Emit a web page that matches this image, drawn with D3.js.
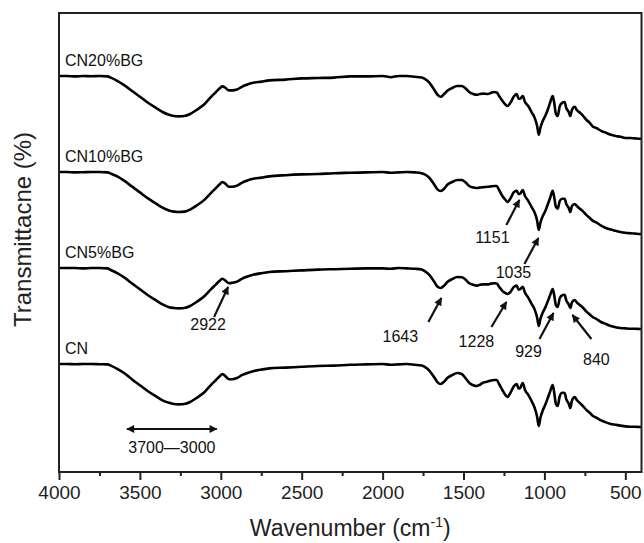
<!DOCTYPE html>
<html><head><meta charset="utf-8">
<script src="https://cdn.jsdelivr.net/npm/d3@7/dist/d3.min.js"></script>
<style>
html,body{margin:0;padding:0;background:#fff;}
svg{display:block;font-family:"Liberation Sans",Arial,Helvetica,sans-serif;}
</style></head>
<body>
<svg id="chart" width="644" height="543"></svg>
<script>
// ---------------- DATA ----------------
const seriesNames = ["CN20%BG", "CN10%BG", "CN5%BG", "CN"];
const seriesOffsets = [72, 48, 24, 0];

const wavenumbers = [4000,3950,3900,3850,3800,3750,3700,3680,3640,3600,
3550,3500,3450,3400,3360,3320,3290,3260,3225,3190,
3150,3100,3060,3030,3005,2990,2970,2950,2930,2900,
2870,2840,2800,2750,2700,2600,2500,2400,2300,2200,
2100,2000,1950,1900,1850,1800,1760,1740,1710,1680,
1660,1641,1620,1600,1570,1540,1511,1490,1465,1440,
1419,1400,1380,1350,1330,1310,1295,1280,1260,1240,
1228,1210,1190,1171,1160,1150,1134,1120,1100,1080,
1060,1045,1035,1025,1010,995,980,965,949,940,
929,918,905,890,875,865,850,840,830,813,
800,780,760,740,720,700,680,650,620,590,
560,530,500,470,440,410,400];

const tCN20 = [95,95,94.9,95,94.95,95,94.9,94.6,93.8,92.8,
91.3,89.8,88.3,87,86,85.3,85,84.9,85,85.5,
86.5,88,89.8,91,92,92.4,92,91.4,91.4,91.6,
92.3,92.8,93.3,93.6,93.9,94.1,94.4,94.5,94.6,94.9,
94.9,95,94.7,95,95,94.8,94.6,94.3,93.3,91.5,
90.3,89.8,90.5,91.3,92,92.5,92.5,92,91,90.5,
90.3,90.5,90.6,90.5,90.8,91,90.9,90,88.8,87.8,
87.5,88.3,89.8,90.5,89.3,89.3,90,88.5,87.5,86,
84.5,82.5,80.3,82,83.8,85,86.5,88.3,90,88.5,
85.5,85,87.5,88.3,88.5,87,86,85,86.5,87.3,
86.5,85.8,85,84,83.3,82.3,82,81.3,80.8,80.3,
80,79.8,79.5,79.5,79.4,79.3,79.3];

const tCN10 = [95,95,94.9,94.95,95,95,94.9,94.6,93.9,92.9,
91.4,89.9,88.4,87.1,86.1,85.4,85.1,85,85.1,85.6,
86.6,88.1,89.8,91,92,92.5,92,91.3,91.3,91.6,
92.3,92.8,93.3,93.6,93.9,94.2,94.4,94.5,94.7,94.8,
94.9,95,94.8,94.9,95,94.9,94.7,94.4,93.5,91.8,
90.6,90.25,90.8,91.8,92.5,93,93,92.5,91.5,91.1,
91,91.1,91.2,91.3,91.4,91.5,91.5,90.5,89,88,
87.5,88.4,89.9,90.3,89.5,89.6,90.5,89,87.8,86.3,
84.8,82.8,80.5,82.3,84,85.2,86.8,88.5,90.3,88.8,
86.3,85.8,87.8,88.3,88.3,87,86,85,86.5,87,
86.5,85.8,85.1,84.2,83.5,82.8,82.4,81.6,81,80.6,
80.3,80,79.8,79.7,79.6,79.5,79.5];

const tCN5 = [95,95,95,94.9,95,95,94.9,94.5,93.7,92.7,
91.2,89.7,88.2,86.9,85.9,85.2,85,84.9,85,85.5,
86.5,88,89.7,90.9,91.9,92.3,91.8,91.2,91.3,91.6,
92.3,92.8,93.3,93.7,94,94.2,94.4,94.6,94.7,94.8,
94.9,94.9,94.8,95,94.9,94.8,94.6,94.2,93.2,91.5,
90.3,90,90.6,91.5,92.2,92.75,92.7,92.2,91.2,90.8,
90.6,90.8,90.9,90.9,91.1,91.2,91.1,90.3,89.3,88.7,
88.5,89,90.2,90.6,89.6,89.7,90.3,88.8,87.6,86.1,
84.6,82.6,80.5,82.2,83.9,85.1,86.6,88.2,89.75,88.3,
85.7,85.25,87.5,88.2,88.3,86.9,85.9,85,86.4,87,
86.4,85.7,85,84.1,83.4,82.7,82.3,81.5,81,80.5,
80.2,80,79.9,79.8,79.8,79.75,79.75];

const tCN = [95,95,94.95,95,95,94.95,94.9,94.6,93.8,92.8,
91.2,89.7,88.2,86.9,85.9,85.3,85,84.9,85,85.5,
86.5,88,89.8,91,92,92.5,91.9,91.2,91.2,91.5,
92.2,92.7,93.2,93.6,93.9,94.1,94.3,94.5,94.6,94.8,
94.9,95,94.8,94.9,95,94.8,94.6,94.3,93.3,91.6,
90.4,90,90.6,91.5,92.2,92.75,92.5,91.6,90.3,89.7,
89.5,89.8,90.3,90.6,90.9,91,91,90,88.5,87.2,
86.75,87.8,89.4,90,88.9,89,90.25,88.5,87.3,85.8,
84,81.8,79.5,81.5,83.4,84.8,86.4,88.1,89.75,88,
85,84.5,87,87.8,87.75,86.2,85.1,84,85.8,86.75,
86,85.2,84.4,83.5,82.8,82,81.6,80.9,80.4,80,
79.8,79.6,79.4,79.3,79.3,79.25,79.25];

const seriesValues = [tCN20, tCN10, tCN5, tCN];

const xTicksMajor = [4000,3500,3000,2500,2000,1500,1000,500];
const xTicksMinor = [3750,3250,2750,2250,1750,1250,750];

// Peak annotations: label, wavenumber of arrow tip, stacked transmittance of tip
const peakLabels = ["2922","1643","1228","929","840","1151","1035"];
const peakWn     = [2955, 1637, 1235, 944, 827, 1155, 1037];
const peakT      = [114.25, 111.5, 110.5, 107.75, 107.25, 136, 126.5];

// Range annotation
const rangeLabel = "3700\u20143000";
const rangeWn = [3580, 3025];
const rangeT = 78.75;

// ---------------- LAYOUT ----------------
const W = 644, H = 543;
const plot = {left: 59, right: 641.5, top: 13, bottom: 472};
const svg = d3.select("#chart");

const x = d3.scaleLinear().domain([4000, 400]).range([plot.left, plot.right]);
const y = d3.scaleLinear().domain([68, 182.75]).range([plot.bottom, plot.top]);

// arrow marker
const defs = svg.append("defs");
defs.append("marker").attr("id","ah").attr("viewBox","0 0 10 10")
  .attr("refX",9).attr("refY",5).attr("markerWidth",9).attr("markerHeight",8)
  .attr("markerUnits","userSpaceOnUse").attr("orient","auto-start-reverse")
  .append("path").attr("d","M0,0 L10,5 L0,10 Z").attr("fill","#111");
defs.append("clipPath").attr("id","clip").append("rect")
  .attr("x",plot.left).attr("y",plot.top)
  .attr("width",plot.right-plot.left).attr("height",plot.bottom-plot.top);

// curves
const line = d3.line()
  .x(d => x(d[0])).y(d => y(d[1]))
  .curve(d3.curveMonotoneX);

const gLines = svg.append("g").attr("clip-path","url(#clip)");
seriesValues.forEach((vals, i) => {
  const pts = wavenumbers.map((w, j) => [w, vals[j] + seriesOffsets[i]]);
  gLines.append("path").datum(pts)
    .attr("d", line).attr("fill","none")
    .attr("stroke","#000").attr("stroke-width",2.6)
    .attr("stroke-linejoin","round");
});

// series labels
seriesNames.forEach((name, i) => {
  svg.append("text")
    .attr("x", x(4000) + 6)
    .attr("y", y(seriesValues[i][0] + seriesOffsets[i]) - 10)
    .attr("font-size", 16).attr("fill","#111")
    .text(name);
});

// peak annotations
const arrowLayout = [
  {dx:-14, dy:30, lx:-20, ly:43},
  {dx:-13, dy:24, lx:-41, ly:44},
  {dx:-15, dy:25, lx:-30, ly:45},
  {dx:-14, dy:26, lx:-25, ly:44},
  {dx:19,  dy:24, lx:24,  ly:50},
  {dx:-13, dy:25, lx:-27, ly:43},
  {dx:-14, dy:26, lx:-25, ly:40}
];
peakLabels.forEach((lab, i) => {
  const tx = x(peakWn[i]), ty = y(peakT[i]);
  const L = arrowLayout[i];
  svg.append("line")
    .attr("x1", tx + L.dx).attr("y1", ty + L.dy)
    .attr("x2", tx).attr("y2", ty)
    .attr("stroke","#111").attr("stroke-width",2.2)
    .attr("marker-end","url(#ah)");
  svg.append("text")
    .attr("x", tx + L.lx).attr("y", ty + L.ly)
    .attr("text-anchor","middle").attr("font-size",16).attr("fill","#111")
    .text(lab);
});

// range annotation (double arrow)
svg.append("line")
  .attr("x1", x(rangeWn[0])).attr("y1", y(rangeT))
  .attr("x2", x(rangeWn[1])).attr("y2", y(rangeT))
  .attr("stroke","#111").attr("stroke-width",2.2)
  .attr("marker-start","url(#ah)").attr("marker-end","url(#ah)");
svg.append("text")
  .attr("x", (x(rangeWn[0]) + x(rangeWn[1])) / 2)
  .attr("y", y(rangeT) + 24)
  .attr("text-anchor","middle").attr("font-size",16).attr("fill","#111")
  .text(rangeLabel);

// x axis
const xAxis = d3.axisBottom(x).tickValues(xTicksMajor).tickSize(8).tickPadding(6)
  .tickFormat(d3.format("d"));
const gx = svg.append("g").attr("transform",`translate(0,${plot.bottom})`).call(xAxis);
gx.select(".domain").remove();
gx.selectAll(".tick line").attr("stroke","#222").attr("stroke-width",2);
gx.selectAll(".tick text").attr("font-size",19).attr("fill","#222")
  .attr("font-family","'Liberation Sans',Arial,sans-serif");
const gxm = svg.append("g").attr("transform",`translate(0,${plot.bottom})`)
  .call(d3.axisBottom(x).tickValues(xTicksMinor).tickSize(4).tickFormat(""));
gxm.select(".domain").remove();
gxm.selectAll(".tick line").attr("stroke","#222").attr("stroke-width",2);

// frame
svg.append("rect")
  .attr("x",plot.left).attr("y",plot.top)
  .attr("width",plot.right-plot.left).attr("height",plot.bottom-plot.top)
  .attr("fill","none").attr("stroke","#222").attr("stroke-width",2);

// axis titles
const xt = svg.append("text")
  .attr("x",(plot.left+plot.right)/2).attr("y",536)
  .attr("text-anchor","middle").attr("font-size",23).attr("fill","#222");
xt.append("tspan").text("Wavenumber (cm");
xt.append("tspan").attr("font-size",14).attr("dy",-9).text("-1");
xt.append("tspan").attr("dy",9).text(")");

svg.append("text")
  .attr("transform",`translate(31,${(plot.top+plot.bottom)/2 - 13}) rotate(-90)`)
  .attr("text-anchor","middle").attr("font-size",24).attr("fill","#222")
  .text("Transmittacne (%)");
</script>
</body></html>
